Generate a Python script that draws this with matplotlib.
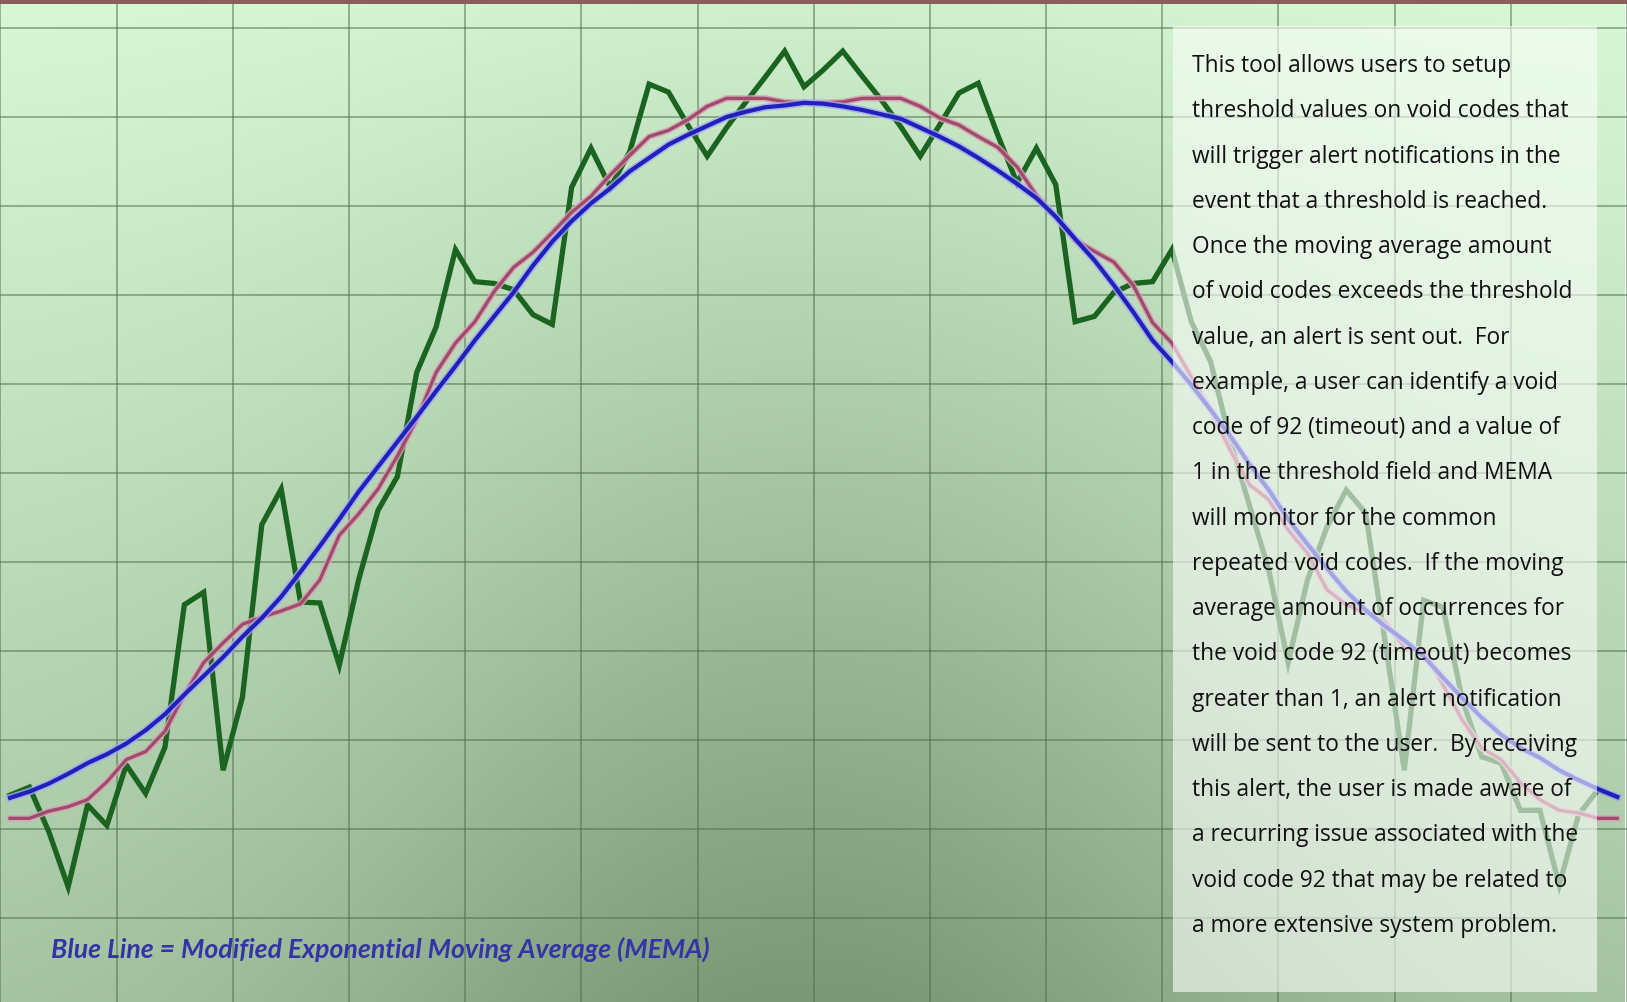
import numpy as np
import matplotlib
matplotlib.use("Agg")
import matplotlib.pyplot as plt
from matplotlib import patheffects as pe
from matplotlib.patches import Rectangle

# ---------------------------------------------------------------- data
periods = np.arange(84)

raw_counts = [
    13.8, 14.7, 9.7, 3.5, 12.7, 10.4, 17.2, 14.0, 19.2, 35.2,
    36.6, 16.6, 24.8, 44.2, 48.2, 35.5, 35.4, 28.4, 38.0, 45.8,
    49.6, 61.3, 66.4, 75.1, 71.5, 71.3, 70.6, 67.8, 66.7, 82.1,
    86.5, 82.1, 86.1, 93.7, 92.8, 89.1, 85.6, 88.8, 91.7, 94.5,
    97.4, 93.4, 95.3, 97.4, 94.6, 91.9, 88.9, 85.6, 89.1, 92.7,
    93.8, 88.0, 82.6, 86.5, 82.4, 67.0, 67.6, 70.3, 71.3, 71.5,
    75.1, 67.0, 62.5, 53.7, 46.4, 39.1, 28.7, 38.0, 43.9, 48.1,
    45.5, 31.2, 16.6, 35.7, 34.9, 24.5, 18.1, 17.4, 12.1, 12.1,
    3.7, 11.6, 14.4, 13.6,
]

moving_average = [
    11.2, 11.2, 12.0, 12.5, 13.3, 15.3, 17.8, 18.7, 21.0, 25.1,
    28.7, 30.9, 33.0, 33.8, 34.5, 35.3, 38.0, 43.0, 45.4, 48.2,
    51.9, 56.0, 61.3, 64.6, 67.0, 70.4, 73.1, 74.8, 77.0, 79.3,
    81.1, 83.5, 85.7, 87.8, 88.5, 89.7, 91.2, 92.1, 92.1, 92.1,
    91.7, 91.6, 91.6, 91.7, 92.1, 92.1, 92.1, 91.2, 89.9, 89.1,
    87.8, 86.6, 84.4, 81.2, 78.8, 76.2, 74.9, 73.7, 71.1, 66.9,
    64.6, 60.8, 57.1, 52.6, 48.7, 47.0, 43.6, 41.0, 36.9, 35.2,
    34.3, 33.3, 30.4, 30.1, 26.2, 22.2, 19.1, 17.8, 15.2, 13.3,
    12.1, 11.8, 11.2, 11.2,
]

mema = [
    13.5, 14.2, 15.1, 16.2, 17.4, 18.4, 19.6, 21.1, 22.9, 25.1,
    27.2, 29.3, 31.6, 33.7, 36.1, 38.9, 41.8, 44.8, 47.9, 50.7,
    53.5, 56.3, 59.2, 62.0, 64.9, 67.6, 70.3, 73.3, 76.0, 78.3,
    80.3, 82.0, 83.9, 85.4, 86.9, 88.0, 89.0, 90.0, 90.6, 91.1,
    91.3, 91.6, 91.5, 91.2, 90.8, 90.3, 89.8, 88.8, 87.8, 86.7,
    85.4, 84.0, 82.5, 80.9, 78.8, 76.3, 73.9, 71.1, 68.1, 64.9,
    62.5, 59.9, 57.1, 54.2, 51.0, 48.1, 44.8, 42.0, 39.3, 36.7,
    34.6, 32.8, 31.2, 29.4, 27.0, 24.7, 22.5, 20.6, 19.1, 18.0,
    16.6, 15.5, 14.5, 13.6,
]

description_lines = [
    "This tool allows users to setup",
    "threshold values on void codes that",
    "will trigger alert notifications in the",
    "event that a threshold is reached.",
    "Once the moving average amount",
    "of void codes exceeds the threshold",
    "value, an alert is sent out.  For",
    "example, a user can identify a void",
    "code of 92 (timeout) and a value of",
    "1 in the threshold field and MEMA",
    "will monitor for the common",
    "repeated void codes.  If the moving",
    "average amount of occurrences for",
    "the void code 92 (timeout) becomes",
    "greater than 1, an alert notification",
    "will be sent to the user.  By receiving",
    "this alert, the user is made aware of",
    "a recurring issue associated with the",
    "void code 92 that may be related to",
    "a more extensive system problem.",
]

legend_note = "Blue Line = Modified Exponential Moving Average (MEMA)"

# ---------------------------------------------------------------- figure
W, H = 1627, 1002
fig = plt.figure(figsize=(W / 100, H / 100), dpi=100)
ax = fig.add_axes([0, 0, 1, 1])
xlim = (-0.52, 83.35)
ylim = (-9.44, 103.15)
ax.set_xlim(*xlim)
ax.set_ylim(*ylim)

# soft green backdrop: light at the top, darker toward the bottom centre
ny, nx = 200, 330
vv, uu = np.mgrid[0:1:ny * 1j, 0:1:nx * 1j]
centre = np.exp(-((uu - 0.5) / 0.30) ** 2)
t = 0.45 * vv + 0.35 * centre * vv + 0.08 * centre
t = np.clip(t, 0, 1)[..., None]
light = np.array([216, 249, 214]) / 255
dark = np.array([110, 138, 105]) / 255
bg = light * (1 - t) + dark * t
ax.imshow(bg, extent=(xlim[0], xlim[1], ylim[0], ylim[1]), origin="upper",
          aspect="auto", interpolation="bicubic", zorder=0)

# grid
ax.set_xticks(np.arange(0, 90, 6) - 0.5)
ax.set_yticks(np.arange(0, 101, 10))
ax.grid(True, color="#4f6e4f", alpha=0.65, linewidth=1.1)
ax.set_axisbelow(False)
ax.tick_params(length=0, labelbottom=False, labelleft=False)
for s in ax.spines.values():
    s.set_visible(False)

# series
ax.plot(periods, raw_counts, color="#1b6420", lw=3.8, solid_joinstyle="miter",
        zorder=3)
ax.plot(periods, moving_average, color="#a04b6c", lw=2.4, zorder=4,
        path_effects=[pe.Stroke(linewidth=4.6, foreground="#d8a3b8", alpha=0.85),
                      pe.Normal()])
ax.plot(periods, mema, color="#2020bb", lw=3.0, zorder=5,
        path_effects=[pe.Stroke(linewidth=5.4, foreground="#a6a6f2", alpha=0.8),
                      pe.Normal()])

# top border strip
fig.add_artist(Rectangle((0, 1 - 4 / H), 1, 4 / H, transform=fig.transFigure,
                         facecolor="#8a5c5c", edgecolor="none", zorder=6))

# translucent description panel
fig.add_artist(Rectangle((1173 / W, 1 - 992 / H), (1597 - 1173) / W, (992 - 26) / H,
                         transform=fig.transFigure, facecolor="#fbfffa",
                         edgecolor="none", alpha=0.6, zorder=2))

renderer = fig.canvas.get_renderer()


def fitted_size(text, target_px, **kw):
    probe = fig.text(0, 0, text, fontsize=20, **kw)
    width = probe.get_window_extent(renderer).width
    probe.remove()
    return 20 * target_px / width


body_kw = dict(family="Open Sans")
fs = fitted_size(description_lines[1], 375, **body_kw)
for k, line in enumerate(description_lines):
    fig.text(1192 / W, 1 - (72 + 45.26 * k) / H, line, fontsize=fs,
             color="#111111", va="baseline", ha="left", zorder=3, **body_kw)

note_kw = dict(family="Lato", weight="bold", style="italic")
fs2 = fitted_size(legend_note, 658, **note_kw)
fig.text(51 / W, 1 - 958 / H, legend_note, fontsize=fs2, color="#3434a8",
         va="baseline", ha="left", zorder=3, **note_kw)

fig.savefig("out.png", dpi=100)
